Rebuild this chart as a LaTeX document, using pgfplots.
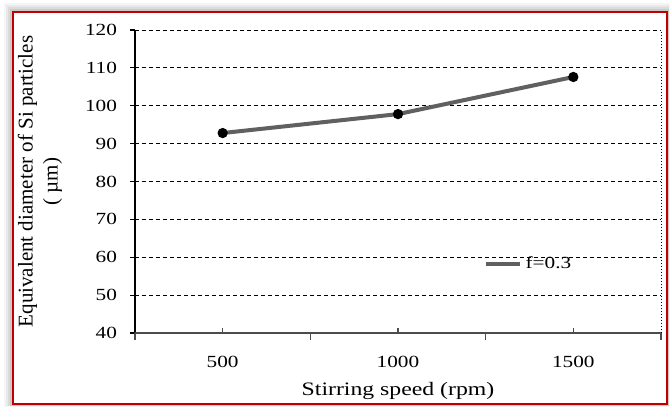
\documentclass[border=0pt]{standalone}
\usepackage{pgfplots}
\pgfplotsset{compat=1.18}
\usepackage{fontspec}
\setmainfont{Liberation Serif}[FakeStretch=1.25]
\newfontfamily\plainserif{Liberation Serif}
\definecolor{linegray}{HTML}{606060}
\definecolor{framered}{HTML}{C00000}
\begin{document}
\begin{tikzpicture}[x=0.5pt,y=-0.5pt]
% bounding box and shadow
\path (0,0) rectangle (670,407);
\foreach \i/\o in {9/0.04,7/0.05,5/0.06,3/0.08,1/0.1}{
  \fill[black,opacity=\o] (13-\i,12-\i) rectangle (668+\i*0.2,405+\i*0.2);
}
\fill[white] (13,12) rectangle (667,404);
\draw[framered,line width=1pt] (13,12) rectangle (667,404);
\begin{axis}[
  at={(67.5pt,-166.5pt)}, anchor=south west,
  scale only axis, width=263pt, height=151.5pt,
  xmin=-0.5, xmax=2.5, ymin=40, ymax=120,
  ytick={40,50,...,120},
  xtick={0,1,2}, xticklabels={500,1000,1500},
  extra x ticks={-0.5,0.5,1.5,2.5}, extra x tick labels={},
  extra x tick style={tick align=outside, major tick length=3.5pt, grid=none},
  x tick style={black!70, line width=0.6pt},
  y tick style={black, line width=0.6pt},
  major tick length=2.5pt,
  xtick align=inside, ytick align=outside,
  xtick pos=lower, ytick pos=left,
  axis line style={draw=none},
  ymajorgrids, grid style={black, dash pattern=on 2pt off 1.5pt, line width=0.5pt},
  /pgf/number format/assume math mode=true,
  tick label style={font=\fontsize{8.5}{10}\selectfont},
  xticklabel style={yshift=-8pt},
  yticklabel style={xshift=-3pt},
  xlabel={Stirring speed (rpm)},
  xlabel style={font=\fontsize{9.5}{11}\selectfont, at={(axis description cs:0.5,-0.19)}, anchor=center},
  ylabel={Equivalent diameter of Si particles\\( µm)},
  ylabel style={font=\plainserif\fontsize{10.5}{12.5}\selectfont, align=center, at={(axis description cs:-0.125,0.5)}, anchor=south},
  legend style={draw=none, fill=none, at={(rel axis cs:0.662,0.228)}, anchor=west, inner sep=0pt,
    font=\fontsize{8.5}{10}\selectfont, legend cell align=left},
  legend image code/.code={\draw[linegray, line width=2pt] (0,0) -- (17pt,0);},
  clip=false,
]
\draw[black, line width=0.7pt] (rel axis cs:0,0) -- (rel axis cs:0,1);
\draw[black!70, line width=0.9pt] (rel axis cs:0,0) -- (rel axis cs:1,0);
\draw[black, densely dotted, line width=0.5pt] (rel axis cs:1,0) -- (rel axis cs:1,1);
\addplot[linegray, line width=2pt, mark=*, mark options={black, fill=black, scale=0.75}]
  coordinates {(0,92.8) (1,97.8) (2,107.6)};
\addlegendentry{f=0.3}
\end{axis}
\end{tikzpicture}
\end{document}
